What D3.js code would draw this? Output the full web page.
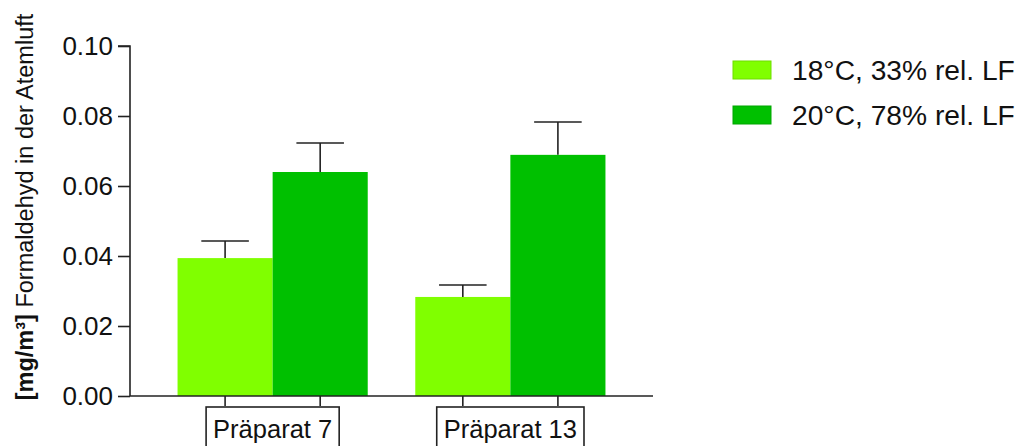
<!DOCTYPE html>
<html>
<head>
<meta charset="utf-8">
<script src="https://cdn.jsdelivr.net/npm/d3@7"></script>
<style>
  html, body { margin: 0; padding: 0; background: #fff; }
  svg { display: block; font-family: "Liberation Sans", Arial, sans-serif; }
</style>
</head>
<body>
<svg id="chart" width="1022" height="446"></svg>
<script>
// Formaldehyde concentration in breathing air, two preparations, two climates
const groups = ["Präparat 7", "Präparat 13"];
const seriesNames = ["18°C, 33% rel. LF", "20°C, 78% rel. LF"];
const meanLow = [0.0394, 0.0283];   // 18°C, 33% rel. LF
const meanHigh = [0.0640, 0.0689];  // 20°C, 78% rel. LF
const errLow = [0.0049, 0.0034];
const errHigh = [0.0083, 0.0094];
const yTicks = [0.00, 0.02, 0.04, 0.06, 0.08, 0.10];
const colors = ["#80ff00", "#00c000"];

const svg = d3.select("#chart");

const x0 = d3.scaleBand().domain(groups).range([130, 653]).paddingInner(0.2).paddingOuter(0.2);
const x1 = d3.scaleBand().domain(seriesNames).range([0, x0.bandwidth()]);
const y = d3.scaleLinear().domain([0, 0.10]).range([396, 46]);

const rows = groups.map((g, i) => ({
  group: g,
  values: [
    { s: seriesNames[0], v: meanLow[i], e: errLow[i], c: colors[0] },
    { s: seriesNames[1], v: meanHigh[i], e: errHigh[i], c: colors[1] }
  ]
}));

// bars
const gGroups = svg.selectAll("g.grp").data(rows).join("g")
  .attr("class", "grp")
  .attr("transform", d => `translate(${x0(d.group)},0)`);

gGroups.selectAll("rect").data(d => d.values).join("rect")
  .attr("x", d => x1(d.s))
  .attr("y", d => y(d.v))
  .attr("width", x1.bandwidth())
  .attr("height", d => y(0) - y(d.v))
  .attr("fill", d => d.c);

// upper error bars
const capHalf = x1.bandwidth() * 0.25;
gGroups.selectAll("g.err").data(d => d.values).join("g")
  .attr("class", "err")
  .each(function (d) {
    const cx = x1(d.s) + x1.bandwidth() / 2;
    const g = d3.select(this);
    g.append("line")
      .attr("x1", cx).attr("x2", cx)
      .attr("y1", y(d.v)).attr("y2", y(d.v + d.e))
      .attr("stroke", "#222").attr("stroke-width", 1.6);
    g.append("line")
      .attr("x1", cx - capHalf).attr("x2", cx + capHalf)
      .attr("y1", y(d.v + d.e)).attr("y2", y(d.v + d.e))
      .attr("stroke", "#222").attr("stroke-width", 1.6);
  });

// y axis
const yAxis = d3.axisLeft(y).tickValues(yTicks).tickFormat(d3.format(".2f")).tickSize(12).tickPadding(5);
const gy = svg.append("g").attr("transform", "translate(130,0)").call(yAxis);
gy.select(".domain").attr("stroke", "#222").attr("stroke-width", 1.6).attr("d", `M-12,${y(0.10)}H0V${y(0)}`);
gy.selectAll(".tick line").attr("stroke", "#222").attr("stroke-width", 1.6);
gy.selectAll(".tick text").attr("font-size", 26).attr("fill", "#111")
  .attr("font-family", "'Liberation Sans', Arial, sans-serif");

// x axis line
svg.append("line")
  .attr("x1", 130).attr("x2", 653)
  .attr("y1", y(0)).attr("y2", y(0))
  .attr("stroke", "#222").attr("stroke-width", 1.6);

// x ticks under each bar
rows.forEach(r => {
  r.values.forEach(d => {
    const cx = x0(r.group) + x1(d.s) + x1.bandwidth() / 2;
    svg.append("line")
      .attr("x1", cx).attr("x2", cx)
      .attr("y1", y(0)).attr("y2", y(0) + 10)
      .attr("stroke", "#222").attr("stroke-width", 1.6);
  });
});

// boxed group labels
groups.forEach(g => {
  const cx = x0(g) + x0.bandwidth() / 2;
  const lab = svg.append("g");
  const box = lab.append("rect");
  const t = lab.append("text")
    .attr("x", cx).attr("y", 438)
    .attr("text-anchor", "middle")
    .attr("font-size", 25.5).attr("fill", "#111")
    .text(g);
  const bb = t.node().getBBox();
  box.attr("x", bb.x - 7).attr("y", 407)
    .attr("width", bb.width + 14).attr("height", 60)
    .attr("fill", "#fff").attr("stroke", "#222").attr("stroke-width", 1.6);
});

// y axis title
const title = svg.append("text")
  .attr("transform", "translate(33,207) rotate(-90)")
  .attr("text-anchor", "middle")
  .attr("font-size", 23.5).attr("fill", "#111");
title.append("tspan").attr("font-weight", "bold").text("[mg/m³]");
title.append("tspan").text(" Formaldehyd in der Atemluft");

// legend
const legend = svg.append("g");
seriesNames.forEach((s, i) => {
  const yy = 61 + i * 45;
  legend.append("rect")
    .attr("x", 733).attr("y", yy).attr("width", 38).attr("height", 18)
    .attr("fill", colors[i])
    .attr("stroke", d3.color(colors[i]).darker(0.4)).attr("stroke-width", 1);
  legend.append("text")
    .attr("x", 792).attr("y", yy + 19)
    .attr("font-size", 28.2).attr("fill", "#111")
    .text(s);
});
</script>
</body>
</html>
